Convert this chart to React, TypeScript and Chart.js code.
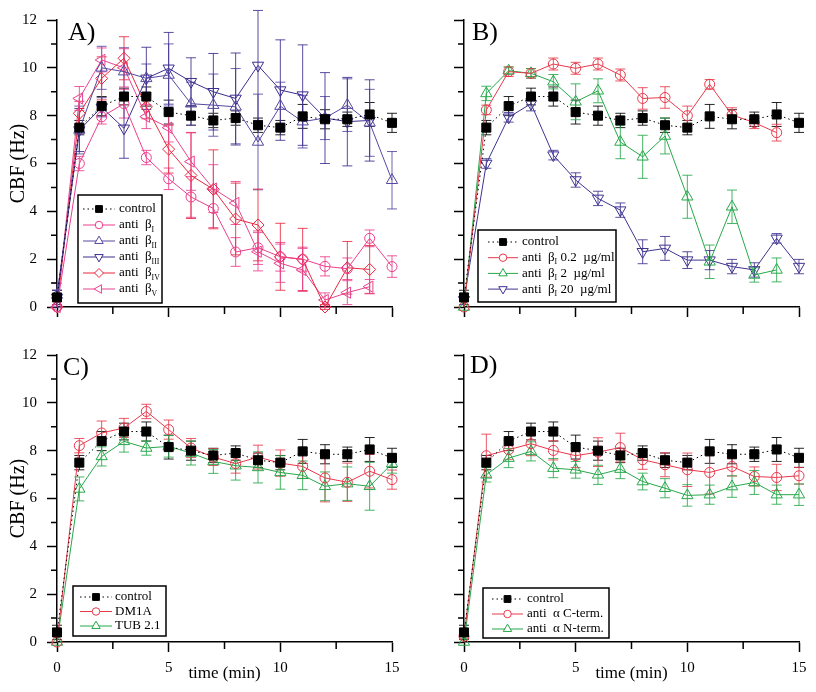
import React, { useEffect, useRef } from 'react';
import { Chart, registerables } from 'chart.js';

Chart.register(...registerables);

const FONT = '"Liberation Serif", "Times New Roman", serif';

// ---------------- data ----------------
const TIMES = [0, 1, 2, 3, 4, 5, 6, 7, 8, 9, 10, 11, 12, 13, 14, 15];

const CONTROL = [0.4, 7.5, 8.4, 8.8, 8.8, 8.15, 8.0, 7.8, 7.9, 7.6, 7.5, 7.97, 7.85, 7.85, 8.05, 7.7];
const CONTROL_ERR = [0.3, 0.3, 0.4, 0.35, 0.4, 0.5, 0.4, 0.3, 0.3, 0.3, 0.3, 0.5, 0.4, 0.3, 0.5, 0.4];

// Panel A
const BETA1 = [0, 6.0, 7.95, 8.5, 6.25, 5.36, 4.6, 4.12, 2.3, 2.48, 2.1, 2.0, 1.7, 1.6, 2.87, 1.69];
const BETA1_ERR = [0, 0.3, 0.3, 0.6, 0.3, 0.45, 0.85, 0.8, 0.6, 0.7, 0.6, 0.5, 0.4, 0.45, 0.35, 0.45];
const BETA2 = [0.5, 7.4, 10.0, 9.84, 9.56, 9.7, 8.5, 8.44, 8.37, 6.9, 8.4, 7.75, 7.9, 8.44, 7.7, 5.3];
const BETA2_ERR = [0.5, 1.0, 0.9, 1.0, 0.6, 1.3, 0.9, 1.3, 1.6, 2.0, 1.0, 1.1, 0.9, 1.1, 1.4, 1.2];
const BETA3 = [0.4, 7.4, 8.35, 7.47, 9.56, 9.98, 9.42, 9.0, 8.72, 10.1, 9.07, 8.86, 7.9, 7.75, 7.8, null];
const BETA3_ERR = [0.3, 0.9, 0.4, 1.25, 1.3, 1.5, 1.0, 1.6, 1.9, 2.3, 2.1, 2.1, 1.9, 1.85, 1.7, null];
const BETA4 = [0, 8.1, 9.56, 10.4, 8.37, 6.6, 5.5, 4.92, 3.68, 3.43, 2.1, 1.99, 0, 1.64, 1.57, null];
const BETA4_ERR = [0, 0.5, 0.9, 0.9, 0.5, 1.0, 1.8, 1.65, 1.5, 1.5, 1.4, 1.3, 0.1, 1.1, 1.0, null];
const BETA5 = [0, 8.72, 10.33, 10.0, 7.96, 7.5, 6.08, 4.95, 4.35, 2.31, 1.83, 1.55, 0.29, 0.6, 0.85, null];
const BETA5_ERR = [0, 0.5, 0.5, 0.8, 0.5, 0.6, 1.2, 1.0, 0.9, 0.8, 0.8, 0.9, 0.3, 0.5, 0.3, null];

// Panel B
const B_LOW = [0, 8.24, 9.84, 9.77, 10.16, 9.98, 10.16, 9.7, 8.72, 8.76, 8.0, 9.31, 8.03, 7.71, 7.29, null];
const B_LOW_ERR = [0, 0.2, 0.2, 0.2, 0.25, 0.25, 0.25, 0.25, 0.45, 0.45, 0.4, 0.2, 0.3, 0.25, 0.35, null];
const B_MID = [0, 8.93, 9.88, 9.77, 9.42, 8.58, 9.04, 6.9, 6.28, 7.15, 4.61, 1.89, 4.19, 1.34, 1.55, null];
const B_MID_ERR = [0, 0.3, 0.15, 0.2, 0.3, 0.75, 0.5, 0.7, 0.9, 0.75, 0.9, 0.7, 0.7, 0.3, 0.5, null];
const B_HIGH = [0.3, 6.0, 7.93, 8.5, 6.35, 5.31, 4.54, 4.05, 2.31, 2.45, 1.96, 1.96, 1.69, 1.55, 2.87, 1.69];
const B_HIGH_ERR = [0.2, 0.2, 0.2, 0.3, 0.2, 0.3, 0.3, 0.3, 0.5, 0.5, 0.35, 0.4, 0.3, 0.3, 0.2, 0.3];

// Panel C
const DM1A = [0, 8.21, 8.74, 8.95, 9.64, 8.88, 8.11, 7.73, 7.46, 7.73, 7.48, 7.34, 6.86, 6.68, 7.14, 6.79];
const DM1A_ERR = [0, 0.3, 0.5, 0.4, 0.3, 0.4, 0.4, 0.35, 0.4, 0.5, 0.55, 0.5, 1.0, 0.8, 0.7, 0.4];
const TUB = [0, 6.4, 7.76, 8.39, 8.11, 8.18, 7.9, 7.55, 7.37, 7.3, 7.09, 6.97, 6.51, 6.62, 6.51, 7.46];
const TUB_ERR = [0, 0.5, 0.4, 0.45, 0.3, 0.45, 0.5, 0.5, 0.6, 0.65, 0.7, 0.6, 0.6, 0.7, 1.0, 0.4];

// Panel D
const CTERM = [0.24, 7.79, 8.04, 8.29, 8.01, 7.79, 7.94, 8.13, 7.62, 7.41, 7.2, 7.09, 7.34, 6.92, 6.88, 6.95];
const CTERM_ERR = [0.1, 0.9, 0.4, 0.5, 0.4, 0.5, 0.6, 0.6, 0.4, 0.5, 0.7, 0.9, 0.4, 0.4, 0.55, 0.35];
const NTERM = [0, 6.99, 7.69, 7.97, 7.27, 7.2, 6.99, 7.23, 6.71, 6.43, 6.13, 6.16, 6.5, 6.67, 6.16, 6.16];
const NTERM_ERR = [0, 0.3, 0.4, 0.4, 0.4, 0.35, 0.4, 0.4, 0.35, 0.4, 0.45, 0.4, 0.45, 0.5, 0.4, 0.45];

const Y_TICKS = [0, 2, 4, 6, 8, 10, 12];
const X_TICKS = [0, 5, 10, 15];

// ---------------- styling ----------------
type SeriesDef = {
  label: string;
  values: (number | null)[];
  errors: (number | null)[];
  color: string;
  style: string;
  rotation?: number;
  radius: number;
  dash?: number[];
  markerFill?: string;
};

const control = (): SeriesDef => ({
  label: 'control', values: CONTROL, errors: CONTROL_ERR, color: '#000000',
  style: 'rect', radius: 6.4, dash: [1.5, 3], markerFill: '#000000',
});

const RED = '#e8384a';
const GREEN = '#27a84a';

type PanelDef = {
  letter: string; letterDx: number; letterDy: number;
  left: number; top: number; h: number; yw: number; pr: number; pt: number; xh: number;
  showY: boolean; showX: boolean;
  series: SeriesDef[];
  legend: { x: number; y: number; w: number; h: number; row0: number; rowH: number; l1: number; l2: number; tx: number };
};

const PANELS: PanelDef[] = [
  {
    letter: 'A)', letterDx: 11, letterDy: 20, left: 0, top: 0, h: 346, yw: 57, pr: 16, pt: 20, xh: 39,
    showY: true, showX: false,
    series: [
      control(),
      { label: 'anti  β_{I}', values: BETA1, errors: BETA1_ERR, color: '#ec3d8c', style: 'circle', radius: 5 },
      { label: 'anti  β_{II}', values: BETA2, errors: BETA2_ERR, color: '#5548a0', style: 'triangle', radius: 6.5 },
      { label: 'anti  β_{III}', values: BETA3, errors: BETA3_ERR, color: '#3b2e8e', style: 'triangle', rotation: 180, radius: 6.5 },
      { label: 'anti  β_{IV}', values: BETA4, errors: BETA4_ERR, color: '#e8283f', style: 'rectRot', radius: 6 },
      { label: 'anti  β_{V}', values: BETA5, errors: BETA5_ERR, color: '#e8428e', style: 'triangle', rotation: 270, radius: 6.5 },
    ],
    legend: { x: 78, y: 195, w: 84, h: 108, row0: 14, rowH: 16, l1: 83, l2: 115, tx: 119 },
  },
  {
    letter: 'B)', letterDx: 8, letterDy: 20, left: 408, top: 0, h: 346, yw: 56, pr: 17, pt: 20, xh: 39,
    showY: false, showX: false,
    series: [
      control(),
      { label: 'anti  β_{I} 0.2  µg/ml', values: B_LOW, errors: B_LOW_ERR, color: RED, style: 'circle', radius: 5 },
      { label: 'anti  β_{I} 2  µg/ml', values: B_MID, errors: B_MID_ERR, color: GREEN, style: 'triangle', radius: 6.5 },
      { label: 'anti  β_{I} 20  µg/ml', values: B_HIGH, errors: B_HIGH_ERR, color: '#3e3391', style: 'triangle', rotation: 180, radius: 6.5 },
    ],
    legend: { x: 70, y: 230, w: 138, h: 72, row0: 12, rowH: 15.7, l1: 80, l2: 110, tx: 114 },
  },
  {
    letter: 'C)', letterDx: 6, letterDy: 20, left: 0, top: 326, h: 366, yw: 57, pr: 16, pt: 29, xh: 50,
    showY: true, showX: true,
    series: [
      control(),
      { label: 'DM1A', values: DM1A, errors: DM1A_ERR, color: RED, style: 'circle', radius: 5 },
      { label: 'TUB 2.1', values: TUB, errors: TUB_ERR, color: GREEN, style: 'triangle', radius: 6.5 },
    ],
    legend: { x: 73, y: 260, w: 93, h: 50, row0: 11, rowH: 14.5, l1: 80, l2: 112, tx: 115 },
  },
  {
    letter: 'D)', letterDx: 6, letterDy: 18, left: 408, top: 326, h: 366, yw: 56, pr: 17, pt: 29, xh: 50,
    showY: false, showX: true,
    series: [
      control(),
      { label: 'anti  α C-term.', values: CTERM, errors: CTERM_ERR, color: RED, style: 'circle', radius: 5 },
      { label: 'anti  α N-term.', values: NTERM, errors: NTERM_ERR, color: GREEN, style: 'triangle', radius: 6.5 },
    ],
    legend: { x: 75, y: 262, w: 126, h: 50, row0: 11, rowH: 15, l1: 84, l2: 115, tx: 119 },
  },
];

// ---------------- helpers ----------------
function drawMarker(ctx: CanvasRenderingContext2D, style: string, x: number, y: number, r: number, rotation: number, fill: string, stroke: string) {
  ctx.save();
  ctx.beginPath();
  const rad0 = (rotation * Math.PI) / 180;
  if (style === 'circle') {
    ctx.arc(x, y, r, 0, Math.PI * 2);
  } else if (style === 'rect') {
    const s = Math.SQRT1_2 * r;
    ctx.rect(x - s, y - s, 2 * s, 2 * s);
  } else if (style === 'rectRot') {
    ctx.moveTo(x, y - r); ctx.lineTo(x + r, y); ctx.lineTo(x, y + r); ctx.lineTo(x - r, y); ctx.closePath();
  } else if (style === 'triangle') {
    let rad = rad0;
    ctx.moveTo(x + Math.sin(rad) * r, y - Math.cos(rad) * r);
    rad += (2 * Math.PI) / 3;
    ctx.lineTo(x + Math.sin(rad) * r, y - Math.cos(rad) * r);
    rad += (2 * Math.PI) / 3;
    ctx.lineTo(x + Math.sin(rad) * r, y - Math.cos(rad) * r);
    ctx.closePath();
  }
  ctx.fillStyle = fill;
  ctx.fill();
  ctx.strokeStyle = stroke;
  ctx.lineWidth = 1;
  ctx.stroke();
  ctx.restore();
}

function drawRich(ctx: CanvasRenderingContext2D, text: string, x: number, y: number, size: number) {
  const parts = text.split(/(_\{[^}]*\})/);
  for (const p of parts) {
    if (!p) continue;
    if (p.startsWith('_{')) {
      const s = p.slice(2, -1);
      ctx.font = `${size * 0.6}px ${FONT}`;
      ctx.fillText(s, x, y + size * 0.35);
      x += ctx.measureText(s).width;
    } else {
      ctx.font = `${size}px ${FONT}`;
      ctx.fillText(p, x, y);
      x += ctx.measureText(p).width;
    }
  }
}

const errorBarsPlugin = {
  id: 'errorBars',
  beforeDatasetsDraw(chart: any) {
    const ctx = chart.ctx as CanvasRenderingContext2D;
    const xs = chart.scales.x;
    const ys = chart.scales.y;
    chart.data.datasets.forEach((ds: any) => {
      ctx.save();
      ctx.strokeStyle = ds.borderColor;
      ctx.globalAlpha = 0.85;
      ctx.lineWidth = 1;
      ds.data.forEach((p: any) => {
        if (p.y == null || !p.e) return;
        const x = xs.getPixelForValue(p.x);
        const y1 = ys.getPixelForValue(p.y + p.e);
        const y2 = ys.getPixelForValue(p.y - p.e);
        ctx.beginPath();
        ctx.moveTo(x, y1); ctx.lineTo(x, y2);
        ctx.moveTo(x - 5, y1); ctx.lineTo(x + 5, y1);
        ctx.moveTo(x - 5, y2); ctx.lineTo(x + 5, y2);
        ctx.stroke();
      });
      ctx.restore();
    });
  },
};

function makeDecoPlugin(panel: PanelDef) {
  return {
    id: 'panelDeco',
    afterDraw(chart: any) {
      const ctx = chart.ctx as CanvasRenderingContext2D;
      const xs = chart.scales.x;
      const ys = chart.scales.y;
      const area = chart.chartArea;
      ctx.save();
      // minor ticks
      ctx.strokeStyle = '#000';
      ctx.lineWidth = 1.5;
      ctx.beginPath();
      for (let v = 1; v < 12; v += 2) {
        const y = ys.getPixelForValue(v);
        ctx.moveTo(area.left - 6, y); ctx.lineTo(area.left, y);
      }
      for (const v of [2.5, 7.5, 12.5]) {
        const x = xs.getPixelForValue(v);
        ctx.moveTo(x, area.bottom); ctx.lineTo(x, area.bottom + 7);
      }
      ctx.stroke();

      // panel letter
      ctx.fillStyle = '#000';
      ctx.font = `26px ${FONT}`;
      ctx.textBaseline = 'alphabetic';
      ctx.textAlign = 'left';
      ctx.fillText(panel.letter, area.left + panel.letterDx, area.top + panel.letterDy);

      // x title
      if (panel.showX) {
        ctx.font = `17px ${FONT}`;
        ctx.textAlign = 'center';
        ctx.textBaseline = 'middle';
        const cx = (xs.getPixelForValue(5) + xs.getPixelForValue(10)) / 2;
        ctx.fillText('time (min)', cx, area.bottom + 32);
      }

      // legend
      const lg = panel.legend;
      ctx.fillStyle = '#ffffff';
      ctx.fillRect(lg.x, lg.y, lg.w, lg.h);
      ctx.lineWidth = 1.5;
      ctx.strokeStyle = '#000';
      ctx.strokeRect(lg.x, lg.y, lg.w, lg.h);
      ctx.textAlign = 'left';
      ctx.textBaseline = 'middle';
      panel.series.forEach((s, i) => {
        const ry = lg.y + lg.row0 + i * lg.rowH;
        ctx.save();
        ctx.strokeStyle = s.color;
        ctx.lineWidth = 1;
        ctx.setLineDash(s.dash || []);
        ctx.beginPath();
        ctx.moveTo(lg.l1, ry); ctx.lineTo(lg.l2, ry);
        ctx.stroke();
        ctx.restore();
        drawMarker(ctx, s.style, (lg.l1 + lg.l2) / 2, ry, s.radius * 0.75, s.rotation || 0, s.markerFill || '#ffffff', s.color);
        ctx.fillStyle = '#000';
        drawRich(ctx, s.label, lg.tx, ry, 13);
      });
      ctx.restore();
    },
  };
}

function buildConfig(panel: PanelDef): any {
  const datasets = panel.series.map((s) => ({
    label: s.label,
    data: TIMES.map((t, i) => ({ x: t, y: s.values[i], e: s.errors[i] })).filter((p) => p.y != null),
    borderColor: s.color,
    backgroundColor: s.color,
    borderWidth: 1,
    borderDash: s.dash || [],
    pointStyle: s.style,
    pointRotation: s.rotation || 0,
    pointRadius: s.radius,
    pointBorderWidth: 1,
    pointBorderColor: s.color,
    pointBackgroundColor: s.markerFill || 'rgba(255,255,255,0)',
    tension: 0,
    fill: false,
    clip: false,
  }));
  const tickFont = { family: FONT, size: 15 };
  return {
    type: 'line',
    data: { datasets },
    options: {
      responsive: false,
      animation: false,
      events: [],
      layout: { padding: { left: 0, right: panel.pr, top: panel.pt, bottom: 0 } },
      plugins: {
        legend: { display: false },
        tooltip: { enabled: false },
      },
      scales: {
        x: {
          type: 'linear', min: 0, max: 15,
          afterBuildTicks: (sc: any) => { sc.ticks = X_TICKS.map((v) => ({ value: v })); },
          ticks: { display: panel.showX, font: tickFont, color: '#000', padding: 7, maxRotation: 0, autoSkip: false },
          grid: { drawOnChartArea: false, drawTicks: true, tickLength: 10, tickColor: '#000', tickWidth: 1.5 },
          border: { display: true, color: '#000', width: 1.5 },
          afterFit: (sc: any) => { sc.height = panel.xh; },
        },
        y: {
          type: 'linear', min: 0, max: 12,
          afterBuildTicks: (sc: any) => { sc.ticks = Y_TICKS.map((v) => ({ value: v })); },
          ticks: { display: panel.showY, font: tickFont, color: '#000', padding: 10 },
          grid: { drawOnChartArea: false, drawTicks: true, tickLength: 10, tickColor: '#000', tickWidth: 1.5 },
          border: { display: true, color: '#000', width: 1.5 },
          title: { display: panel.showY, text: 'CBF (Hz)', color: '#000', font: { family: FONT, size: 20 }, padding: { top: 7, bottom: 0 } },
          afterFit: (sc: any) => { sc.width = panel.yw; },
        },
      },
    },
    plugins: [errorBarsPlugin, makeDecoPlugin(panel)],
  };
}

function Panel({ panel }: { panel: PanelDef }) {
  const ref = useRef<HTMLCanvasElement | null>(null);
  useEffect(() => {
    if (!ref.current) return;
    const chart = new Chart(ref.current, buildConfig(panel));
    return () => chart.destroy();
  }, [panel]);
  return (
    <div style={{ position: 'absolute', left: panel.left, top: panel.top, width: 408, height: panel.h }}>
      <canvas ref={ref} width={408} height={panel.h} style={{ width: 408, height: panel.h, display: 'block' }} />
    </div>
  );
}

export default function App() {
  return (
    <div style={{ position: 'absolute', left: 0, top: 0, width: 816, height: 692, background: '#fff' }}>
      {PANELS.map((p) => (
        <Panel key={p.letter} panel={p} />
      ))}
    </div>
  );
}
